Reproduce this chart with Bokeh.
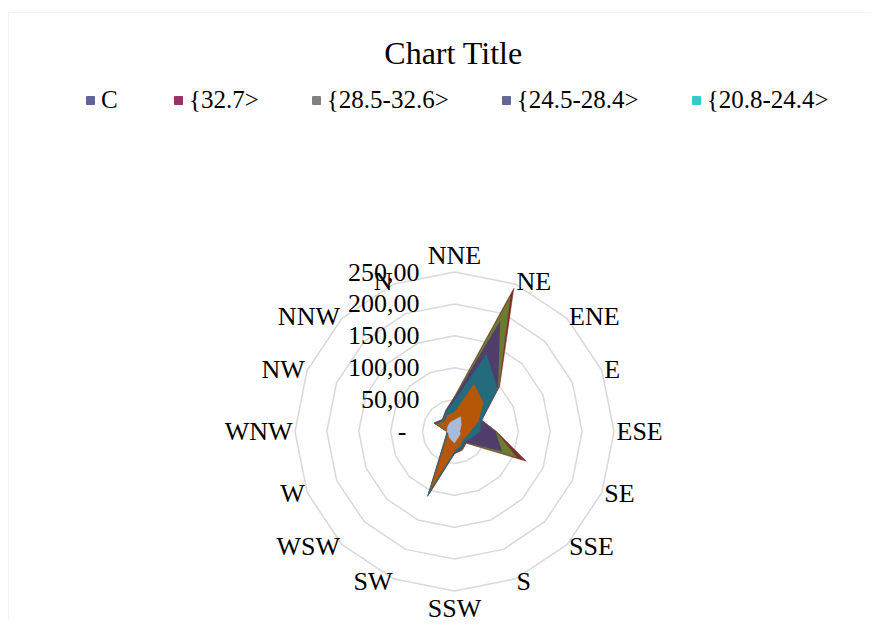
import numpy as np
from bokeh.plotting import figure
from bokeh.models import ColumnDataSource, Range1d, Label, Legend, LegendItem, BoxAnnotation
from bokeh.core.properties import value
from bokeh.embed import file_html
from bokeh.resources import INLINE

# ---------------- data ----------------
directions = ["NNE", "NE", "ENE", "E", "ESE", "SE", "SSE", "S",
              "SSW", "SW", "WSW", "W", "WNW", "NW", "NNW", "N"]

# filled radar layers (outermost first)
layer_darkred   = [55, 243, 100, 46, 66, 122, 26, 32, 35, 110, 23, 14, 12, 35, 27, 36]
layer_olive     = [54, 228, 98, 46, 65, 105, 25, 31, 34, 109, 22, 14, 12, 34, 26, 35]
layer_purple    = [53, 186, 96, 46, 64, 80, 24, 30, 34, 108, 22, 13, 12, 34, 26, 35]
layer_teal      = [48, 131, 95, 45, 40, 28, 22, 28, 33, 107, 21, 13, 11, 33, 25, 34]
layer_orange    = [30, 80, 64, 40, 25, 20, 18, 24, 30, 97, 18, 11, 10, 30, 22, 28]
layer_lightblue = [18, 25, 15, 10, 8, 10, 10, 12, 18, 14, 12, 10, 12, 12, 14, 16]

layers = [layer_darkred, layer_olive, layer_purple, layer_teal, layer_orange, layer_lightblue]
layer_colors = ["#7e2d2d", "#6b7c2f", "#4f3d6c", "#236b7d", "#b65708", "#a9bbdb"]

legend_labels = ["C", "{32.7>", "{28.5-32.6>", "{24.5-28.4>", "{20.8-24.4>"]
legend_colors = ["#64649a", "#993366", "#808080", "#666699", "#33cccc"]

ring_values = [50, 100, 150, 200, 250]
tick_values = [0, 50, 100, 150, 200, 250]
tick_labels = ["-", "50,00", "100,00", "150,00", "200,00", "250,00"]

FONT = "Liberation Serif"

# ---------------- geometry ----------------
n = len(directions)
theta = np.deg2rad(np.arange(n) * 360.0 / n)   # clockwise from top


def polar(vals):
    r = np.asarray(vals, dtype=float)
    return r * np.sin(theta), r * np.cos(theta)


k = 0.638            # px per value unit
W, H = 871, 621
CX, CY = 454, 431    # radar centre on the canvas (px)
p = figure(width=W, height=H, output_backend="svg", toolbar_location=None,
           min_border=0,
           x_range=Range1d(-CX / k, (W - CX) / k), y_range=Range1d(-(H - CY) / k, CY / k))
p.axis.visible = False
p.grid.visible = False
p.outline_line_color = None
p.background_fill_color = "white"
p.border_fill_color = "white"

# chart-area border (Excel-style frame, partly beyond the window)
p.add_layout(BoxAnnotation(left=8, right=W + 20, top=H - 12, bottom=-20,
                           left_units="screen", right_units="screen",
                           top_units="screen", bottom_units="screen",
                           fill_alpha=0, line_color="#d9d9d9", line_width=1))

# grid rings
for v in ring_values:
    x, y = polar([v] * n)
    p.line(np.append(x, x[0]), np.append(y, y[0]), line_color="#d9d9d9", line_width=1.5)

# filled layers
for vals, col in zip(layers, layer_colors):
    x, y = polar(vals)
    p.patch(x, y, fill_color=col, line_color=col, line_width=0.5)

# category labels
R = 162 / k
s, c = np.sin(theta), np.cos(theta)
aligns = ["left" if si > 0.05 else ("right" if si < -0.05 else "center") for si in s]
bases = ["middle" if abs(si) > 0.05 else ("bottom" if ci > 0 else "top") for si, ci in zip(s, c)]
cat_src = ColumnDataSource(dict(x=R * s, y=R * c, text=directions, align=aligns, base=bases))
p.text(x="x", y="y", text="text", source=cat_src, text_align="align", text_baseline="base",
       text_font=value(FONT), text_font_size="26px", text_color="black")

# value axis labels
offs = [-48 if t == "-" else -35 for t in tick_labels]
tick_src = ColumnDataSource(dict(x=[0] * len(tick_values), y=tick_values, text=tick_labels, xo=offs))
p.text(x="x", y="y", text="text", source=tick_src, x_offset="xo", text_align="right",
       text_baseline="middle", text_font=value(FONT), text_font_size="26px", text_color="black")

# title
p.add_layout(Label(x=453, y=H - 52, x_units="screen", y_units="screen", text="Chart Title",
                   text_align="center", text_baseline="middle", text_font=FONT,
                   text_font_size="32px", text_color="black"))

# legend (swatches only)
items = []
for lab, col in zip(legend_labels, legend_colors):
    r = p.patch(x=[np.nan, np.nan, np.nan], y=[np.nan, np.nan, np.nan],
                fill_color=col, line_color=col)
    items.append(LegendItem(label=lab, renderers=[r]))
legend = Legend(items=items, orientation="horizontal", location=(85, H - 114),
                glyph_width=10, glyph_height=10, label_standoff=6, spacing=52,
                padding=0, margin=0, border_line_color=None, background_fill_alpha=0,
                label_text_font=FONT, label_text_font_size="25px", label_text_color="black")
p.add_layout(legend, "center")

open("out.html", "w").write(file_html(p, INLINE))
